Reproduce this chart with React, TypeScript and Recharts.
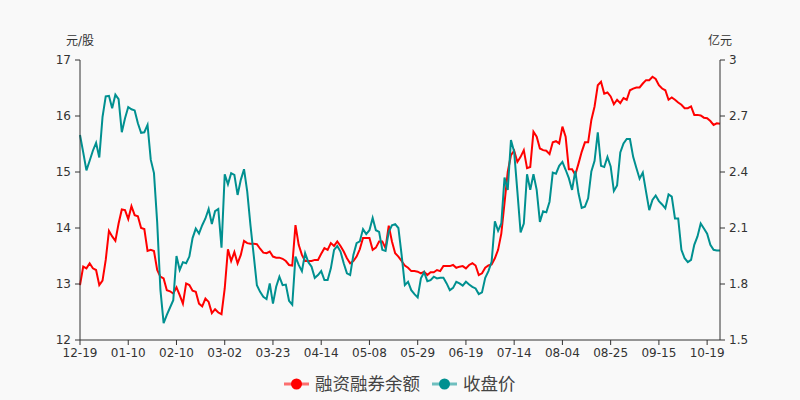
import { Line, LineChart, XAxis, YAxis } from "recharts";

const tickLabels = [
  "12-19", "01-10", "02-10", "03-02", "03-23", "04-14", "05-08",
  "05-29", "06-19", "07-14", "08-04", "08-25", "09-15", "10-19",
];

// 收盘价 (元/股)
const closePrice = [
  15.66, 15.35, 15.03, 15.2, 15.38, 15.52, 15.26, 15.98, 16.35, 16.36,
  16.14, 16.38, 16.3, 15.71, 15.96, 16.16, 16.12, 16.1, 15.87, 15.7,
  15.71, 15.84, 15.22, 14.98, 14.1, 12.9, 12.3, 12.45, 12.58, 12.71,
  13.5, 13.25, 13.39, 13.37, 13.49, 13.82, 13.99, 13.9, 14.05, 14.17,
  14.34, 14.07, 14.3, 14.34, 13.65, 14.96, 14.78, 14.98, 14.95, 14.59,
  14.86, 15.05, 14.65, 14.05, 13.52, 12.98, 12.86, 12.77, 12.73, 13.01,
  12.65, 12.95, 13.13, 12.98, 12.99, 12.7, 12.63, 13.49, 13.34, 13.23,
  13.55, 13.39, 13.31, 13.11, 13.16, 13.23, 13.07, 13.07, 13.28, 13.61,
  13.68, 13.58, 13.37, 13.19, 13.16, 13.52, 13.73, 13.76, 13.98, 13.89,
  13.96, 14.18, 13.96, 13.93, 13.61, 13.59, 13.93, 14.05, 14.07, 14.0,
  13.52, 12.98, 13.04, 12.89, 12.82, 12.76, 13.1, 13.21, 13.05, 13.07,
  13.13, 13.1, 13.11, 13.11, 13.01, 12.89, 12.93, 13.04, 13.01, 12.97,
  13.04, 12.99, 12.95, 12.92, 12.82, 12.85, 13.11, 13.23, 13.4, 14.12,
  13.95, 14.08, 14.9, 14.68, 15.57, 15.36, 14.65, 13.92, 14.08, 14.96,
  14.68, 14.96, 14.68, 14.11, 14.3, 14.28, 14.47, 14.99, 14.97, 15.11,
  15.18, 15.04, 14.89, 14.68, 15.02, 14.62, 14.36, 14.38, 14.53, 15.01,
  15.2, 15.71, 15.11, 15.09, 15.27, 15.1, 14.66, 14.76, 15.35, 15.51,
  15.59, 15.59, 15.27, 15.07, 14.88, 14.99, 14.65, 14.32, 14.5, 14.58,
  14.48, 14.42, 14.35, 14.6, 14.56, 14.17, 14.17, 13.61, 13.46, 13.39,
  13.43, 13.7, 13.85, 14.08, 13.99, 13.9, 13.7, 13.61, 13.6, 13.6,
];

// 融资融券余额 (亿元)
const marginBalance = [
  1.794, 1.893, 1.884, 1.911, 1.884, 1.875, 1.794, 1.818, 1.929, 2.085,
  2.055, 2.031, 2.124, 2.199, 2.196, 2.148, 2.217, 2.169, 2.163, 2.1,
  2.094, 1.977, 1.983, 1.977, 1.875, 1.839, 1.83, 1.767, 1.761, 1.749,
  1.782, 1.74, 1.695, 1.803, 1.794, 1.764, 1.758, 1.695, 1.68, 1.722,
  1.704, 1.644, 1.665, 1.647, 1.638, 1.776, 1.986, 1.923, 1.971, 1.911,
  1.956, 2.031, 2.019, 2.016, 2.016, 2.013, 1.989, 1.968, 1.965, 1.974,
  1.947, 1.941, 1.941, 1.935, 1.923, 1.902, 1.899, 2.115, 2.01, 1.956,
  1.923, 1.923, 1.923, 1.929, 1.929, 1.962, 1.992, 1.983, 2.019, 2.004,
  2.028, 2.004, 1.974, 1.938, 1.911, 1.923, 1.947, 1.986, 2.046, 2.046,
  2.046, 1.983, 1.995, 2.028, 2.028, 1.992, 2.112, 2.028, 1.965, 1.947,
  1.923, 1.899, 1.887, 1.869, 1.869, 1.866, 1.857, 1.866, 1.848, 1.863,
  1.863, 1.875, 1.869, 1.896, 1.896, 1.896, 1.902, 1.887, 1.893, 1.896,
  1.884, 1.902, 1.911, 1.899, 1.848, 1.857, 1.887, 1.899, 1.905, 1.938,
  1.983, 2.07, 2.235, 2.4, 2.49, 2.514, 2.454, 2.481, 2.517, 2.421,
  2.427, 2.616, 2.589, 2.526, 2.517, 2.514, 2.496, 2.559, 2.565, 2.553,
  2.643, 2.589, 2.415, 2.415, 2.385, 2.445, 2.508, 2.559, 2.559, 2.679,
  2.751, 2.865, 2.883, 2.82, 2.826, 2.805, 2.763, 2.787, 2.769, 2.796,
  2.787, 2.838, 2.847, 2.853, 2.853, 2.874, 2.892, 2.892, 2.91, 2.898,
  2.865, 2.847, 2.838, 2.787, 2.799, 2.787, 2.772, 2.76, 2.742, 2.742,
  2.751, 2.706, 2.706, 2.703, 2.691, 2.688, 2.673, 2.652, 2.661, 2.658,
];

const priceTicks = [12, 13, 14, 15, 16, 17];
const balanceTicks = [1.5, 1.8, 2.1, 2.4, 2.7, 3];

const RED = "#ff0000";
const TEAL = "#009090";
const FONT = "'DejaVu Sans', 'Noto Sans CJK SC', sans-serif";

const data = closePrice.map((p, i) => ({ i, price: p, balance: marginBalance[i] }));
const xTicks = tickLabels.map((_, k) => k * 15);

const tickStyle = { fontSize: 12, fill: "#333", fontFamily: FONT };

function LegendItem({ color, label }: { color: string; label: string }) {
  return (
    <div style={{ display: "flex", alignItems: "center", marginRight: 12 }}>
      <svg width={25} height={14} style={{ marginRight: 6 }}>
        <line x1={0} y1={7} x2={25} y2={7} stroke={color} strokeWidth={3} opacity={0.55} />
        <circle cx={12.5} cy={7} r={5.5} fill={color} />
      </svg>
      <span>{label}</span>
    </div>
  );
}

export default function App() {
  return (
    <div
      style={{
        position: "absolute",
        left: 0,
        top: 0,
        width: 800,
        height: 400,
        background: "#f9f9f9",
        fontFamily: FONT,
        color: "#333",
      }}
    >
      <LineChart width={800} height={400} data={data} margin={{ top: 60, right: 0, bottom: 30, left: 0 }}>
        <XAxis
          dataKey="i"
          type="number"
          domain={[0, 199]}
          ticks={xTicks}
          interval={0}
          tickFormatter={(v: number) => tickLabels[v / 15]}
          height={30}
          stroke="#333"
          tickSize={5}
          tickMargin={3}
          tick={tickStyle}
        />
        <YAxis
          yAxisId="left"
          orientation="left"
          width={80}
          domain={[12, 17]}
          ticks={priceTicks}
          stroke="#333"
          tickSize={5}
          tickMargin={4}
          tick={tickStyle}
        />
        <YAxis
          yAxisId="right"
          orientation="right"
          width={80}
          domain={[1.5, 3]}
          ticks={balanceTicks}
          stroke="#333"
          tickSize={5}
          tickMargin={4}
          tick={tickStyle}
        />
        <Line
          yAxisId="right"
          dataKey="balance"
          stroke={RED}
          strokeWidth={2}
          dot={false}
          isAnimationActive={false}
        />
        <Line
          yAxisId="left"
          dataKey="price"
          stroke={TEAL}
          strokeWidth={2}
          dot={false}
          isAnimationActive={false}
        />
      </LineChart>
      <div style={{ position: "absolute", left: 80, top: 31, width: 0, display: "flex", justifyContent: "center", fontSize: 12, whiteSpace: "nowrap" }}>
        元/股
      </div>
      <div style={{ position: "absolute", left: 720, top: 31, width: 0, display: "flex", justifyContent: "center", fontSize: 12, whiteSpace: "nowrap" }}>
        亿元
      </div>
      <div
        style={{
          position: "absolute",
          left: 284,
          top: 373,
          display: "flex",
          alignItems: "center",
          fontSize: 17.5,
          color: "#444",
          lineHeight: "22px",
        }}
      >
        <LegendItem color={RED} label="融资融券余额" />
        <LegendItem color={TEAL} label="收盘价" />
      </div>
    </div>
  );
}
